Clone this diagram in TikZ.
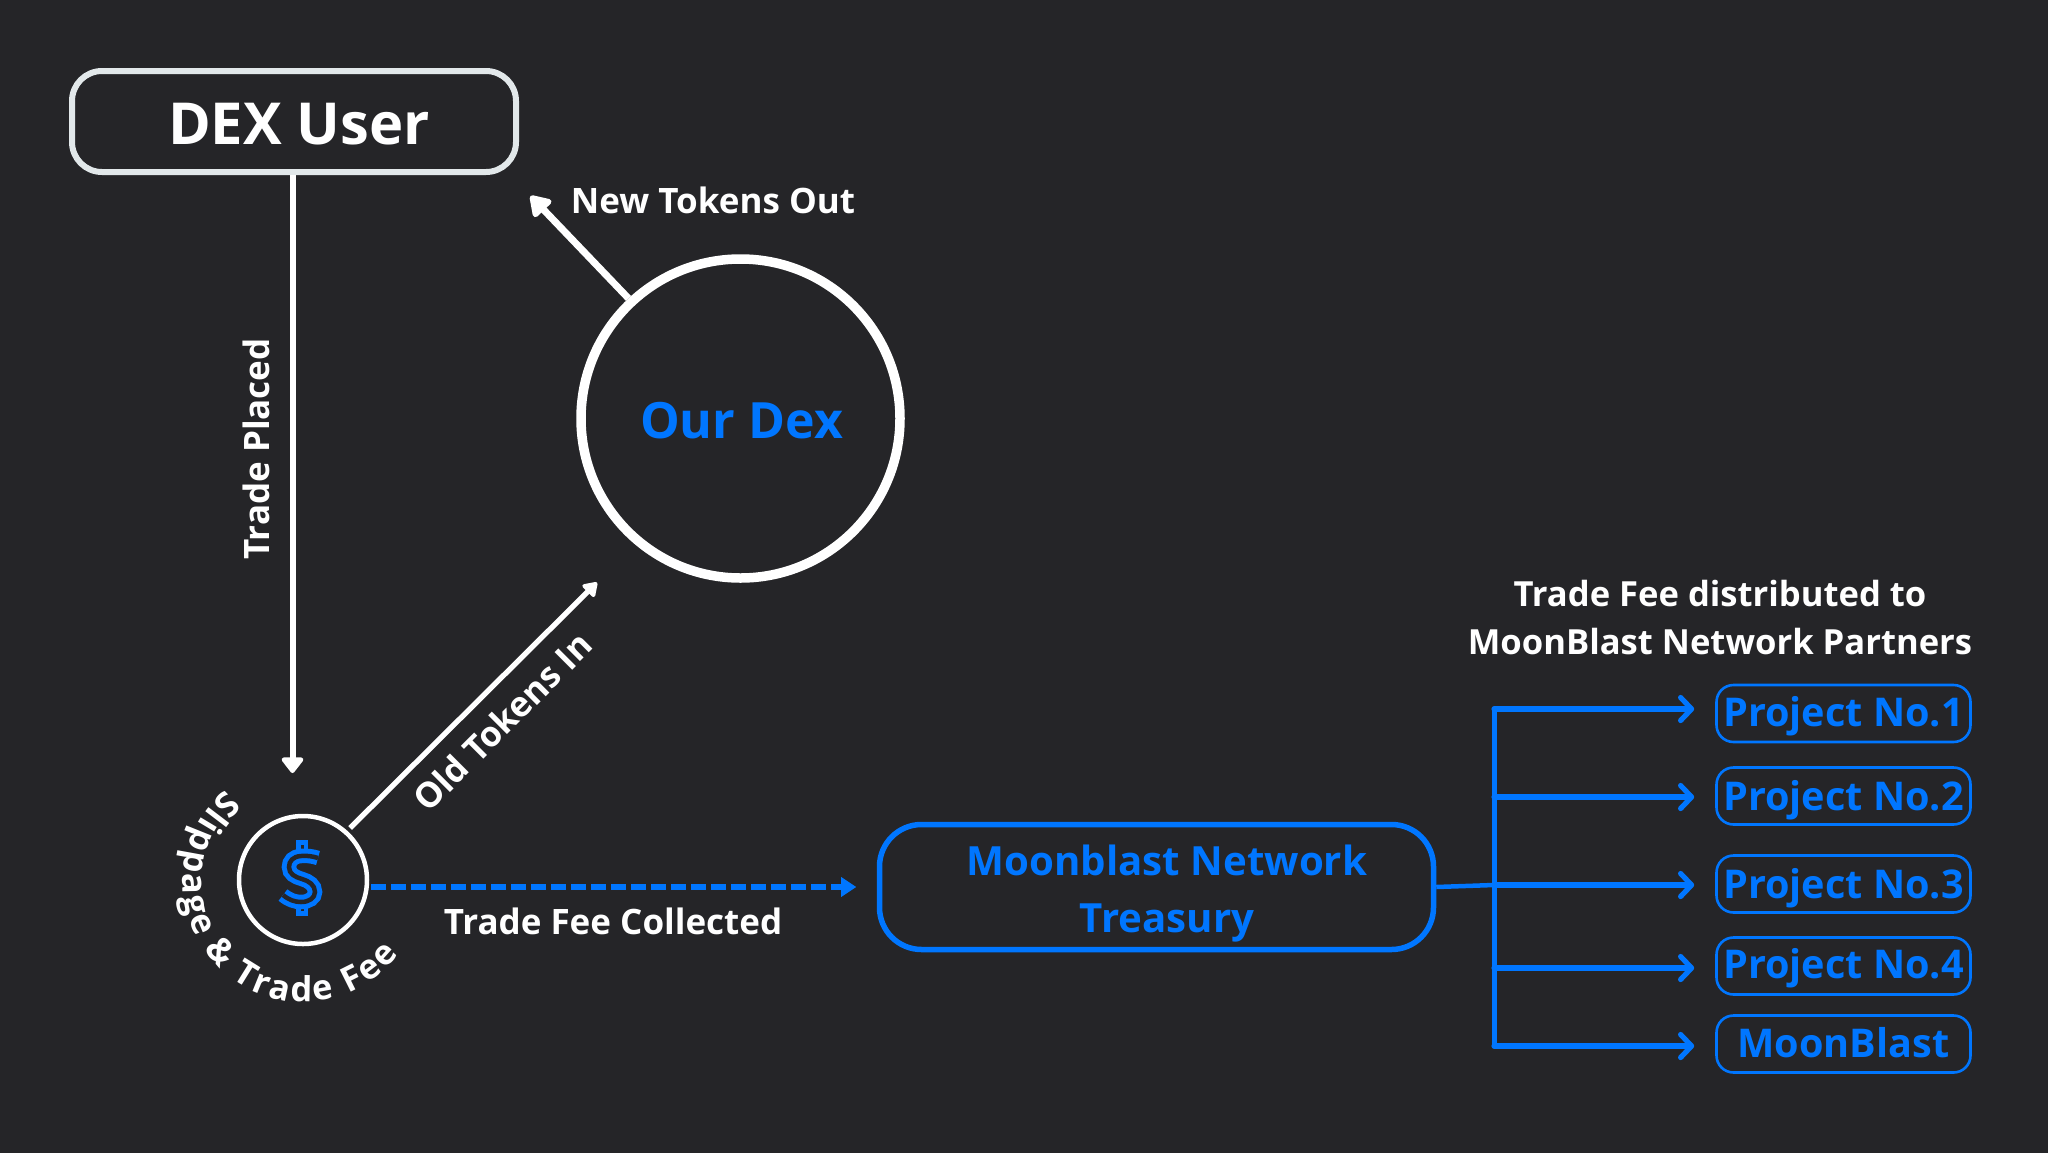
\documentclass[tikz,border=0pt]{standalone}
\usepackage{fontspec}
\setmainfont{Open Sans}
\usetikzlibrary{arrows.meta, positioning, decorations.text}
\definecolor{panel}{HTML}{252528}
\definecolor{dexblue}{HTML}{0076FF}
\definecolor{dexedge}{HTML}{E2E8EA}
\tikzset{
  whitetext/.style={text=white, font=\fontsize{35}{42}\selectfont\bfseries, inner sep=0pt},
  bluetext/.style={text=dexblue, font=\fontsize{40.2}{57}\selectfont\bfseries, inner sep=0pt},
  partner/.style={draw=dexblue, line width=2.6pt, rounded corners=17pt, minimum width=254pt, minimum height=57pt,
    inner sep=0pt, text=dexblue, font=\fontsize{39.6}{46}\selectfont\bfseries, text height=32pt, text depth=6pt},
  feed/.style={dexblue, line width=5.2pt, line cap=round, -{Straight Barb[length=11pt,width=23pt,round]}, shorten >=21pt},
  flow/.style={white, line width=6pt, -{Triangle[length=17pt,width=25pt,round]}},
}
\begin{document}
\begin{tikzpicture}[x=1pt, y=1pt]
  \useasboundingbox (0,0) rectangle (2048,-1152);
  \fill[panel] (-4,4) rectangle (2052,-1156);
  % left side
  \node (dexUser) at (294,-121.5) [draw=dexedge, line width=6pt, fill=panel, rounded corners=30pt, minimum width=444pt, minimum height=101pt] {};
  \node (dexUserText) at (299,-124) [text=white, font=\fontsize{57.9}{68}\selectfont\bfseries, inner sep=0pt] {DEX User};
  \node (ourDex) at (740.5,-418.5) [circle, draw=white, line width=9.5pt, minimum size=319pt, inner sep=0pt, outer sep=4.7pt] {};
  \node (ourDexText) at (741.5,-421) [text=dexblue, font=\fontsize{50}{60}\selectfont\bfseries, inner sep=0pt] {Our Dex};
  \node (feeCoin) at (303,-880) [circle, draw=white, line width=4.5pt, minimum size=128pt, inner sep=0pt, outer sep=2.2pt] {};
  \coordinate (feeTip) at (292.5,-773);
  \coordinate (newTip) at (530.5,-196);
  \coordinate (oldTip) at (597,-582.5);
  \coordinate (arcMid) at (303,-882);
  \draw[flow] (dexUser.south -| feeTip) -- (feeTip);
  \draw[flow, line width=7pt, -{Triangle[length=22pt,width=27pt,round]}] (ourDex.133) -- (newTip);
  \draw[flow, line width=5.3pt, shorten <=4pt, -{Triangle[length=15pt,width=19pt,round]}] (feeCoin.48) -- (oldTip);
  \node (placedLabel) at (256,-449) [whitetext, rotate=90] {Trade Placed};
  \node (newLabel) at (713,-200) [whitetext] {New Tokens Out};
  \node (oldLabel) at (502.5,-721.5) [whitetext, rotate=45] {Old Tokens In};
  % dollar icon
  \draw[dexblue, line width=4.5pt, fill=panel] (298.3,-842.5) rectangle (306,-853);
  \draw[dexblue, line width=4.5pt, fill=panel] (298.3,-903) rectangle (306,-913.5);
  \draw[dexblue, line width=5pt, double=panel, double distance=4.5pt]
    (318,-858) .. controls (312,-856) and (306,-855.5) .. (301,-856)
    .. controls (293,-856.5) and (289,-861) .. (289,-867)
    .. controls (289,-874) and (295,-877) .. (302,-879)
    .. controls (309,-881) and (315,-885) .. (315,-892)
    .. controls (315,-898) and (309,-902) .. (301,-902)
    .. controls (295,-902) and (289,-900) .. (283,-895);
  % text round the coin
  \path[decorate, decoration={text along path, text align=fit to path, text format delimiters={|}{|},
      text={|\fontsize{34.5}{40}\selectfont\bfseries\color{white}|Slippage {\&} Trade Fee}}]
    (arcMid) ++(130:120) arc[start angle=130, end angle=323, radius=120];
  % treasury
  \node (treasury) at (1156.5,-887) [draw=dexblue, line width=5.5pt, rounded corners=42pt, minimum width=554pt, minimum height=125pt] {};
  \node (treasuryText) at (1167,-894) [bluetext, align=center] {Moonblast Network\\Treasury};
  \draw[dexblue, line width=5.5pt, dash pattern=on 15pt off 5pt] (treasury.west -| feeCoin.east) ++(2,0) -- ++(470,0) coordinate (dashEnd);
  \fill[dexblue] (dashEnd) ++(0,10) -- ++(15,-10) -- ++(-15,-10) -- cycle;
  \node (collectedLabel) at (613,-921) [whitetext] {Trade Fee Collected};
  % partners
  \node (title) at (1720,-618) [whitetext, align=center, font=\fontsize{34.6}{48}\selectfont\bfseries] {Trade Fee distributed to\\MoonBlast Network Partners};
  \node (p1) at (1843.5,-713.5) [partner] {Project No.1};
  \node (p2) at (1843.5,-796) [partner, text depth=4pt] {Project No.2};
  \node (p3) at (1843.5,-884) [partner, text depth=4pt] {Project No.3};
  \node (p4) at (1843.5,-966) [partner, text depth=8pt] {Project No.4};
  \node (p5) at (1843.5,-1044) [partner] {MoonBlast};
  \coordinate (bus1) at (1494,-707);
  \coordinate (bus2) at (1494,-797);
  \coordinate (bus3) at (1494,-885);
  \coordinate (bus4) at (1494,-968);
  \coordinate (bus5) at (1494,-1048);
  \draw[dexblue, line width=5pt] (bus1) -- (bus5);
  \draw[dexblue, line width=4.5pt] (treasury.east) -- (bus3);
  \draw[feed] (bus1 |- 0,-709) -- (p1.west |- 0,-709);
  \draw[feed] (bus2) -- (bus2 -| p2.west);
  \draw[feed] (bus3) -- (bus3 -| p3.west);
  \draw[feed] (bus4) -- (bus4 -| p4.west);
  \draw[feed] (bus5 |- 0,-1046) -- (p5.west |- 0,-1046);
\end{tikzpicture}
\end{document}
